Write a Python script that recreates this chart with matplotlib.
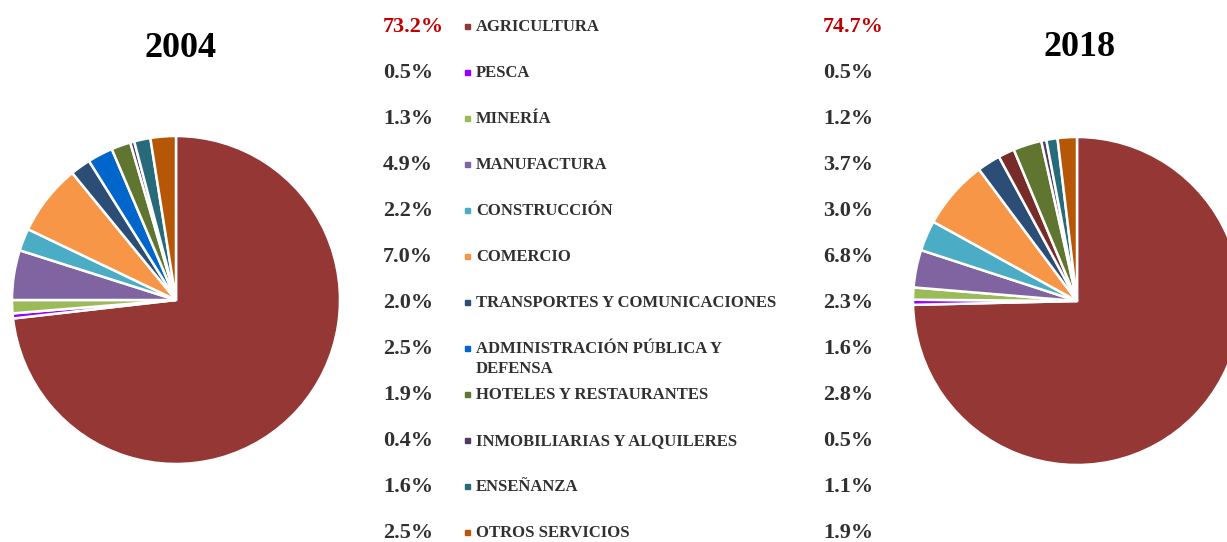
import matplotlib
matplotlib.use('Agg')
import matplotlib.pyplot as plt

# sector shares (%) 2004 and 2018
sectors = ['AGRICULTURA', 'PESCA', 'MINERÍA', 'MANUFACTURA', 'CONSTRUCCIÓN',
           'COMERCIO', 'TRANSPORTES Y COMUNICACIONES',
           'ADMINISTRACIÓN PÚBLICA Y\nDEFENSA', 'HOTELES Y RESTAURANTES',
           'INMOBILIARIAS Y ALQUILERES', 'ENSEÑANZA', 'OTROS SERVICIOS']
share_2004 = [73.2, 0.5, 1.3, 4.9, 2.2, 7.0, 2.0, 2.5, 1.9, 0.4, 1.6, 2.5]
share_2018 = [74.7, 0.5, 1.2, 3.7, 3.0, 6.8, 2.3, 1.6, 2.8, 0.5, 1.1, 1.9]

colors_2004 = ['#953735', '#9900FF', '#9BBB59', '#8064A2', '#4BACC6', '#F79646',
               '#2C4D75', '#0066CC', '#5F7530', '#4D3B62', '#276A7C', '#B65708']
colors_2018 = list(colors_2004)
colors_2018[7] = '#772C2A'

W, H = 1227, 542
plt.rcParams['font.family'] = ['Liberation Serif', 'DejaVu Serif']
fig = plt.figure(figsize=(W / 100, H / 100), dpi=100)


def px(x, y):
    return x / W, 1 - y / H


def add_pie(cx, cy, r, values, colors):
    ax = fig.add_axes([(cx - r) / W, (H - cy - r) / H, 2 * r / W, 2 * r / H])
    ax.pie(values, colors=colors, startangle=90, counterclock=False, radius=1,
           wedgeprops=dict(edgecolor='white', linewidth=1.8))
    ax.set_xlim(-1, 1)
    ax.set_ylim(-1, 1)
    ax.set_aspect('equal')
    ax.axis('off')
    return ax


add_pie(176, 300, 164, share_2004, colors_2004)
add_pie(1077, 301, 164, share_2018, colors_2018)

fig.text(*px(180, 57), '2004', fontsize=26, fontweight='bold', ha='center', va='baseline')
fig.text(*px(1080, 56), '2018', fontsize=26, fontweight='bold', ha='center', va='baseline')

# legend table in the middle
txt = '#303030'
y0, dy = 32, 46.0
for i, name in enumerate(sectors):
    yb = y0 + i * dy
    c = '#C00000' if i == 0 else txt
    fig.text(*px(383, yb), f'{share_2004[i]:.1f}%', fontsize=16, fontweight='bold',
             color=c, va='baseline', ha='left')
    fig.text(*px(823, yb), f'{share_2018[i]:.1f}%', fontsize=16, fontweight='bold',
             color=c, va='baseline', ha='left')
    fig.patches.append(plt.Rectangle(px(465, yb - 3), 5 / W, 5 / H, color=colors_2004[i],
                                     transform=fig.transFigure, figure=fig))
    for k, line in enumerate(name.split('\n')):
        fig.text(*px(476, yb - 1 + 20 * k), line, fontsize=12, fontweight='bold',
                 color=txt, va='baseline', ha='left')

fig.savefig('out.png', dpi=100)
